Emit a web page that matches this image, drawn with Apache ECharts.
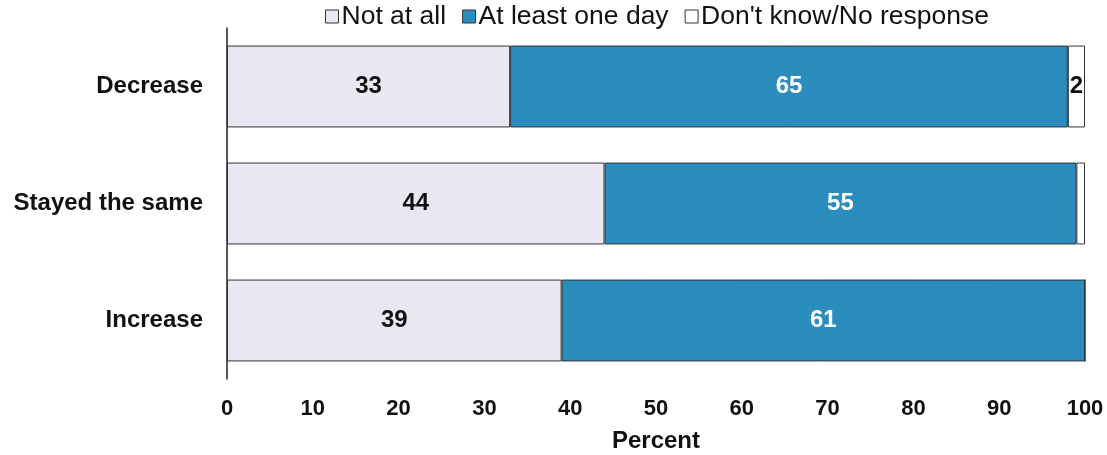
<!DOCTYPE html>
<html>
<head>
<meta charset="utf-8">
<script src="https://cdn.jsdelivr.net/npm/echarts@6/dist/echarts.min.js"></script>
<style>
  html, body { margin: 0; padding: 0; background: #fff; }
  #chart { width: 1107px; height: 455px; }
</style>
</head>
<body>
<div id="chart"></div>
<script>
const categories = ['Increase', 'Stayed the same', 'Decrease'];
const notAtAll = [39, 44, 33];
const atLeastOneDay = [61, 55, 65];
const dontKnow = [0, 1, 2];
const seriesNames = ['Not at all', 'At least one day', "Don't know/No response"];
const colors = ['#E9E8F2', '#2B8CBE', '#FFFFFF'];

const font = 'Liberation Sans, Arial, sans-serif';

function makeSeries(name, data, color, labelColor, minLabel) {
  return {
    name: name,
    type: 'bar',
    stack: 'total',
    barWidth: '70%',
    data: data,
    itemStyle: { color: color, borderColor: '#333', borderWidth: 1 },
    label: {
      show: true,
      position: 'inside',
      color: labelColor,
      fontFamily: font,
      fontWeight: 'bold',
      fontSize: 24,
      formatter: p => (p.value >= minLabel ? p.value : '')
    }
  };
}

const chart = echarts.init(document.getElementById('chart'));
chart.setOption({
  animation: false,
  color: colors,
  legend: {
    top: -2,
    left: 320,
    icon: 'rect',
    itemWidth: 13,
    itemHeight: 13,
    itemGap: 16,
    textStyle: { fontFamily: font, fontSize: 26.5, color: '#111', padding: [0, 0, 0, -2] },
    itemStyle: { borderColor: '#333', borderWidth: 1 },
    data: seriesNames
  },
  grid: { left: 227, right: 22, top: 28, bottom: 76, outerBoundsMode: 'none' },
  xAxis: {
    type: 'value',
    min: 0,
    max: 100,
    interval: 10,
    name: 'Percent',
    nameLocation: 'middle',
    nameGap: 50,
    nameTextStyle: { fontFamily: font, fontWeight: 'bold', fontSize: 24, color: '#111' },
    axisLine: { show: false },
    axisTick: { show: false },
    splitLine: { show: false },
    axisLabel: { fontFamily: font, fontWeight: 'bold', fontSize: 22, color: '#111', margin: 19 }
  },
  yAxis: {
    type: 'category',
    data: categories,
    axisLine: { lineStyle: { color: '#222', width: 1.5 } },
    axisTick: { show: false },
    axisLabel: { fontFamily: font, fontWeight: 'bold', fontSize: 24, color: '#111', margin: 24 }
  },
  series: [
    makeSeries(seriesNames[0], notAtAll, colors[0], '#111', 1),
    makeSeries(seriesNames[1], atLeastOneDay, colors[1], '#fff', 1),
    makeSeries(seriesNames[2], dontKnow, colors[2], '#111', 2)
  ]
});
</script>
</body>
</html>
